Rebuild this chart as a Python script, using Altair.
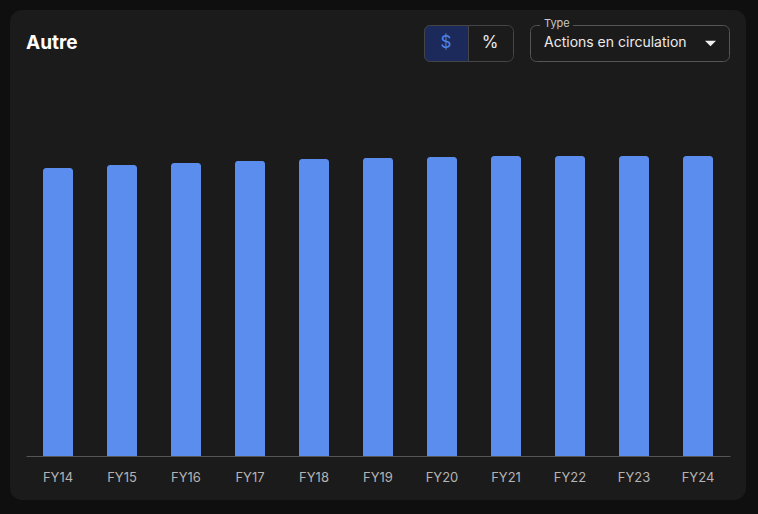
import altair as alt
import pandas as pd

years = ["FY14", "FY15", "FY16", "FY17", "FY18", "FY19", "FY20", "FY21", "FY22", "FY23", "FY24"]
shares = [1.920, 1.940, 1.953, 1.967, 1.980, 1.987, 1.993, 2.000, 2.000, 2.000, 2.000]

title_text = ["Autre"]
toggle_labels = ["$", "%"]
dropdown_label = ["Type"]
dropdown_value = ["Actions en circulation"]

FONT = "Inter"
CARD = "#1b1b1b"
OUTER = "#0f0f0f"
BAR = "#5b8def"

df = pd.DataFrame({"year": years, "value": shares})
one = pd.DataFrame({"k": [0]})

# card background
card = alt.Chart(one).mark_rect(fill=CARD, cornerRadius=12).encode(
    x=alt.value(-16), x2=alt.value(720), y=alt.value(-86), y2=alt.value(404)
)

bars = alt.Chart(df).mark_bar(
    color=BAR, cornerRadiusTopLeft=3, cornerRadiusTopRight=3
).encode(
    x=alt.X("year:N", sort=years,
            scale=alt.Scale(paddingInner=0.53125, paddingOuter=0.265625),
            axis=alt.Axis(title=None, labelAngle=0, labelColor="#b4b4b4", labelFont=FONT,
                          labelFontSize=13, labelPadding=15, ticks=False,
                          domainColor="#555555", domainWidth=1, zindex=1)),
    y=alt.Y("value:Q", scale=alt.Scale(domain=[0, 2.4]), axis=None),
)

title = alt.Chart(pd.DataFrame({"t": title_text})).mark_text(
    align="left", baseline="middle", font=FONT, fontSize=19, fontWeight="bold", color="#ffffff"
).encode(x=alt.value(0), y=alt.value(-53), text="t:N")

# toggle group
toggle_box = alt.Chart(one).mark_rect(fill=CARD, stroke="#454545", strokeWidth=1, cornerRadius=6).encode(
    x=alt.value(398.5), x2=alt.value(487.5), y=alt.value(-70.5), y2=alt.value(-34.5)
)
toggle_sel = alt.Chart(one).mark_rect(
    fill="#1b2a5a", stroke="#454545", strokeWidth=1,
    cornerRadiusTopLeft=6, cornerRadiusBottomLeft=6
).encode(x=alt.value(398.5), x2=alt.value(442.5), y=alt.value(-70.5), y2=alt.value(-34.5))

dollar = alt.Chart(pd.DataFrame({"t": [toggle_labels[0]]})).mark_text(
    align="center", baseline="middle", font=FONT, fontSize=17, fontWeight="normal", color="#4d82ea"
).encode(x=alt.value(420), y=alt.value(-53), text="t:N")
percent = alt.Chart(pd.DataFrame({"t": [toggle_labels[1]]})).mark_text(
    align="center", baseline="middle", font=FONT, fontSize=17, fontWeight="normal", color="#e8e8e8"
).encode(x=alt.value(464), y=alt.value(-53), text="t:N")

# dropdown
dd_box = alt.Chart(one).mark_rect(fill=CARD, stroke="#555555", strokeWidth=1, cornerRadius=6).encode(
    x=alt.value(504.5), x2=alt.value(703.5), y=alt.value(-70.5), y2=alt.value(-34.5)
)
dd_gap = alt.Chart(one).mark_rect(fill=CARD).encode(
    x=alt.value(514), x2=alt.value(547), y=alt.value(-76), y2=alt.value(-68)
)
dd_label = alt.Chart(pd.DataFrame({"t": dropdown_label})).mark_text(
    align="left", baseline="middle", font=FONT, fontSize=11, color="#c8c8c8"
).encode(x=alt.value(518), y=alt.value(-72), text="t:N")
dd_value = alt.Chart(pd.DataFrame({"t": dropdown_value})).mark_text(
    align="left", baseline="middle", font=FONT, fontSize=14, color="#ececec"
).encode(x=alt.value(518), y=alt.value(-53), text="t:N")
caret = alt.Chart(one).mark_point(
    shape="M-1,-0.5L1,-0.5L0,0.5Z", filled=True, color="#f0f0f0", size=121, opacity=1, strokeWidth=0
).encode(x=alt.value(684.5), y=alt.value(-52.5))

chart = alt.layer(
    card, bars, title, toggle_box, toggle_sel, dollar, percent, dd_box, dd_gap, dd_label, dd_value, caret
).properties(
    width=704, height=360,
    autosize=alt.AutoSizeParams(type="none"),
    padding={"left": 26, "top": 96, "right": 28, "bottom": 58},
    background=OUTER,
).configure_view(stroke=None)

chart.save("out.html", embed_options={"renderer": "svg", "actions": False})
